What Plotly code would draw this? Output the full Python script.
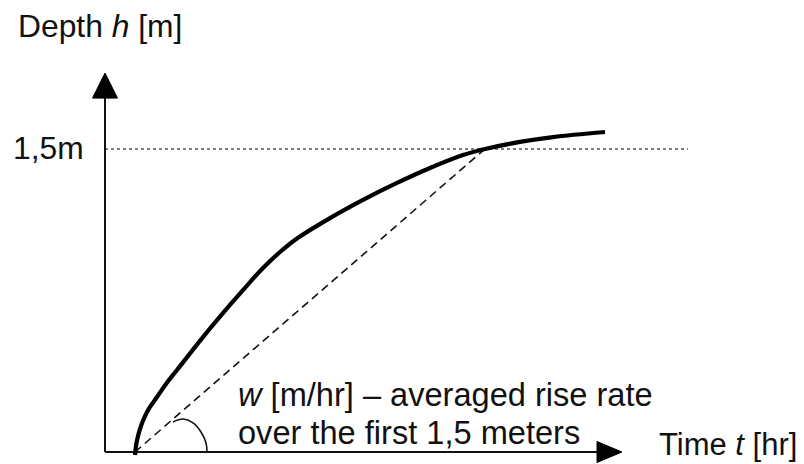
import plotly.graph_objects as go

# Data (time in arbitrary hr units, depth in m)
curve_t = [0.30, 0.31, 0.33, 0.36, 0.40, 0.45, 0.52, 0.61, 0.72, 0.98, 1.25, 1.42, 1.58, 1.75, 1.92, 2.25, 2.58, 2.92, 3.25, 3.58, 3.80, 4.15, 4.48, 5.00]
curve_h = [-0.015, 0.030, 0.079, 0.129, 0.178, 0.223, 0.272, 0.337, 0.406, 0.569, 0.728, 0.824, 0.911, 0.990, 1.057, 1.158, 1.248, 1.332, 1.406, 1.470, 1.500, 1.535, 1.559, 1.584]
avg_t = [0.30, 3.80]
avg_h = [0.00, 1.50]
level_t = [0.0, 5.83]
level_h = [1.5, 1.5]
arc_t = [0.68, 0.78, 0.88, 0.96, 1.01, 1.02]
arc_h = [0.149, 0.163, 0.144, 0.099, 0.045, 0.0]
yaxis_t = [0.0, 0.0]
yaxis_h = [0.0, 1.76]
xaxis_t = [0.0, 4.93]
xaxis_h = [0.0, 0.0]
yarrow_t = [-0.125, 0.125, 0.0, -0.125]
yarrow_h = [1.752, 1.752, 1.876, 1.752]
xarrow_t = [4.92, 4.92, 5.17, 4.92]
xarrow_h = [0.052, -0.052, 0.0, 0.052]

W, H = 804, 464
X0, XS = 105, 100.0   # pixel of t=0, px per unit
Y0, YS = 452, 202.0   # pixel of h=0, px per unit

fig = go.Figure()
fig.add_trace(go.Scatter(x=level_t, y=level_h, mode="lines",
                         line=dict(color="#555555", width=1.6, dash="dot")))
fig.add_trace(go.Scatter(x=avg_t, y=avg_h, mode="lines",
                         line=dict(color="#111111", width=1.6, dash="8px,5px")))
fig.add_trace(go.Scatter(x=arc_t, y=arc_h, mode="lines", line_shape="spline",
                         line=dict(color="#111111", width=1.6)))
fig.add_trace(go.Scatter(x=yaxis_t, y=yaxis_h, mode="lines",
                         line=dict(color="#111111", width=2)))
fig.add_trace(go.Scatter(x=xaxis_t, y=xaxis_h, mode="lines",
                         line=dict(color="#111111", width=2)))
fig.add_trace(go.Scatter(x=yarrow_t, y=yarrow_h, mode="lines", fill="toself",
                         fillcolor="#000000", line=dict(color="#000000", width=1)))
fig.add_trace(go.Scatter(x=xarrow_t, y=xarrow_h, mode="lines", fill="toself",
                         fillcolor="#000000", line=dict(color="#000000", width=1)))
fig.add_trace(go.Scatter(x=curve_t, y=curve_h, mode="lines", line_shape="spline",
                         line=dict(color="#000000", width=4.2, smoothing=1.0)))


def ann(text, px, py, size):
    fig.add_annotation(text=text, xref="paper", yref="paper", x=px / W, y=1 - py / H,
                       xanchor="left", yanchor="middle", showarrow=False,
                       font=dict(family="Liberation Sans, Arial, sans-serif", size=size, color="#111111"))


ann("Depth <i>h</i> [m]", 16, 26, 31.8)
ann("1,5m", 11, 148, 31.8)
ann("Time <i>t</i> [hr]", 657, 444, 31)
ann("<i>w</i> [m/hr] – averaged rise rate", 236, 394, 32.6)
ann("over the first 1,5 meters", 236, 432, 32.6)

fig.update_layout(
    width=W, height=H, margin=dict(l=0, r=0, t=0, b=0),
    paper_bgcolor="white", plot_bgcolor="white", showlegend=False,
    xaxis=dict(range=[-X0 / XS, (W - X0) / XS], visible=False, fixedrange=True),
    yaxis=dict(range=[(Y0 - H) / YS, Y0 / YS], visible=False, fixedrange=True),
)
fig.write_html("out.html")
